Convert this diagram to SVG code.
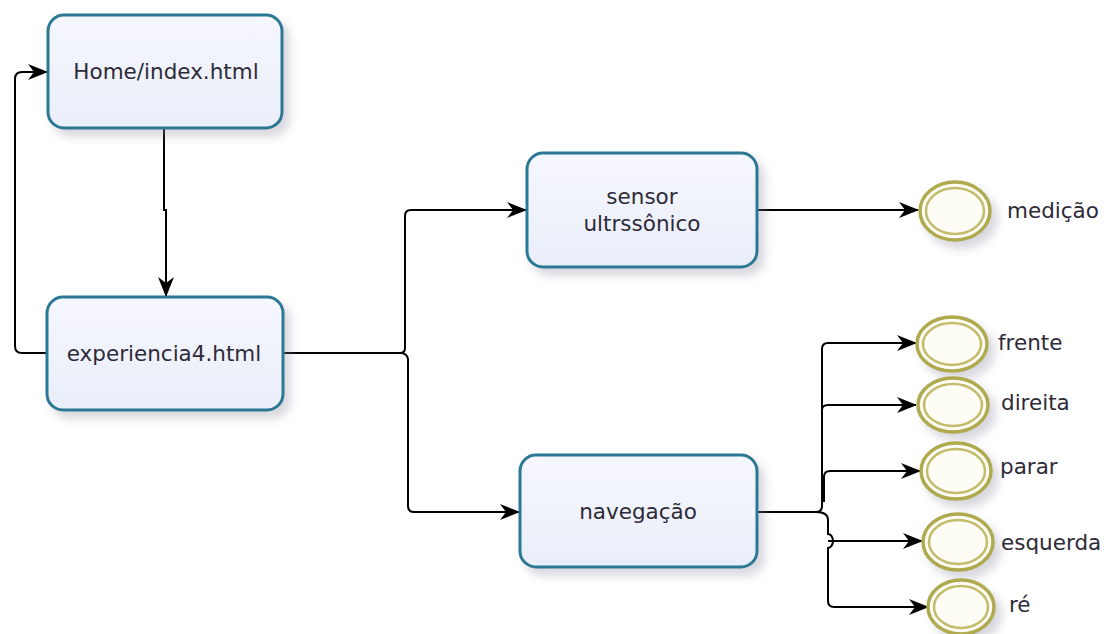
<svg xmlns="http://www.w3.org/2000/svg" width="1117" height="634" viewBox="0 0 1117 634">
  <style>
    .task { fill: url(#taskFill); stroke: #2b7894; stroke-width: 3; filter: url(#shadow); }
    .lbl { font-family: "DejaVu Sans", Verdana, sans-serif; font-size: 21.5px; fill: #2e2a38; }
    .evOuter { fill: #fdfdf6; stroke: #b0aa50; stroke-width: 3.5; filter: url(#shadow); }
    .evInner { fill: none; stroke: #c2bc6c; stroke-width: 2.5; }
    .flow { fill: none; stroke: #000; stroke-width: 2; marker-end: url(#arrow); }
  </style>
  <defs>
    <linearGradient id="taskFill" x1="0" y1="0" x2="0" y2="1">
      <stop offset="0" stop-color="#f6f7fd"/>
      <stop offset="1" stop-color="#e9eef9"/>
    </linearGradient>
    <filter id="shadow" x="-20%" y="-20%" width="150%" height="150%">
      <feDropShadow dx="6" dy="7" stdDeviation="5" flood-color="#8a8aa0" flood-opacity="0.35"/>
    </filter>
    <marker id="arrow" viewBox="0 0 20 16" refX="19" refY="8" markerWidth="20" markerHeight="16" markerUnits="userSpaceOnUse" orient="auto">
      <path d="M0,0 L20,8 L0,16 L6,8 z" fill="#000"/>
    </marker>
  </defs>

  <rect width="1117" height="634" fill="#fff"/>

  <g id="connectors">
    <!-- Home -> experiencia4 -->
    <path class="flow" d="M164,128 V210 H166 V296"/>
    <!-- experiencia4 -> Home (loop back) -->
    <path class="flow" d="M47,353 H22 Q15,353 15,346 V79 Q15,72 22,72 H47"/>
    <!-- experiencia4 -> sensor / navegacao -->
    <path class="flow" d="M283,353 H400 Q405,353 405,348 V216 Q405,210 411,210 H526"/>
    <path class="flow" d="M400,353 Q407,353 408,359 V506 Q408,512 414,512 H519"/>
    <!-- sensor -> medicao -->
    <path class="flow" d="M757,210 H918"/>
    <!-- navegacao -> events -->
    <path class="flow" d="M757,512 H816 Q822,512 822,506 V349 Q822,343 828,343 H916"/>
    <path class="flow" d="M822,410 Q822,405 828,405 H916"/>
    <path class="flow" d="M824,502 V477 Q824,471 830,471 H920"/>
    <path class="flow" d="M816,512 Q828,512 828,520 V534 A5,7 0 0 1 828,548 V601 Q828,607 834,607 H928"/>
    <path class="flow" d="M828,541 H922"/>
  </g>

  <g id="home">
    <rect class="task" x="48" y="15" width="234" height="113" rx="16"/>
    <text class="lbl" x="166" y="79" text-anchor="middle">Home/index.html</text>
  </g>

  <g id="experiencia4">
    <rect class="task" x="47" y="297" width="236" height="113" rx="16"/>
    <text class="lbl" x="164" y="361" text-anchor="middle">experiencia4.html</text>
  </g>

  <g id="sensor">
    <rect class="task" x="527" y="153" width="230" height="114" rx="16"/>
    <text class="lbl" x="642" y="204" text-anchor="middle">sensor</text>
    <text class="lbl" x="642" y="231" text-anchor="middle">ultrssônico</text>
  </g>

  <g id="navegacao">
    <rect class="task" x="520" y="455" width="237" height="112" rx="16"/>
    <text class="lbl" x="638" y="519" text-anchor="middle">navegação</text>
  </g>

  <g id="medicao">
    <ellipse class="evOuter" cx="955" cy="211" rx="35" ry="29"/>
    <ellipse class="evInner" cx="955" cy="211" rx="29" ry="23"/>
    <text class="lbl" x="1007" y="218">medição</text>
  </g>

  <g id="frente">
    <ellipse class="evOuter" cx="952" cy="344" rx="35" ry="27"/>
    <ellipse class="evInner" cx="952" cy="344" rx="29" ry="21"/>
    <text class="lbl" x="998" y="350">frente</text>
  </g>

  <g id="direita">
    <ellipse class="evOuter" cx="953" cy="405" rx="35" ry="27"/>
    <ellipse class="evInner" cx="953" cy="405" rx="29" ry="21"/>
    <text class="lbl" x="1001" y="410">direita</text>
  </g>

  <g id="parar">
    <ellipse class="evOuter" cx="956" cy="471" rx="35" ry="28"/>
    <ellipse class="evInner" cx="956" cy="471" rx="29" ry="22"/>
    <text class="lbl" x="1000" y="474">parar</text>
  </g>

  <g id="esquerda">
    <ellipse class="evOuter" cx="958" cy="542" rx="35" ry="28"/>
    <ellipse class="evInner" cx="958" cy="542" rx="29" ry="22"/>
    <text class="lbl" x="1001" y="550">esquerda</text>
  </g>

  <g id="re">
    <ellipse class="evOuter" cx="961" cy="607" rx="33" ry="27"/>
    <ellipse class="evInner" cx="961" cy="607" rx="27" ry="21"/>
    <text class="lbl" x="1009" y="612">ré</text>
  </g>
</svg>
